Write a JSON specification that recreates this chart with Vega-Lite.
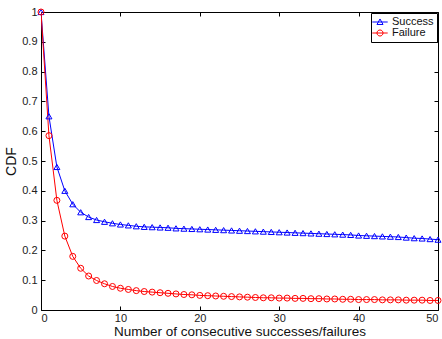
{
  "$schema": "https://vega.github.io/schema/vega-lite/v6.json",
  "width": 397,
  "height": 298,
  "autosize": {"type": "none"},
  "padding": {"left": 41, "top": 12, "right": 4, "bottom": 29},
  "background": "white",
  "config": {
    "font": "Liberation Sans",
    "view": {"stroke": "black", "strokeWidth": 1},
    "axis": {"grid": false, "domain": false, "tickColor": "black", "tickSize": -4, "labelColor": "#222", "labelFontSize": 11, "labelFont": "Liberation Sans", "titleFont": "Liberation Sans", "titleFontWeight": "normal", "titleColor": "#111"},
    "legend": {"title": null, "orient": "top-right", "offset": 1, "strokeColor": "black", "fillColor": "white", "padding": 3, "rowPadding": 0, "labelFontSize": 11, "labelColor": "#111", "symbolSize": 121, "symbolStrokeWidth": 1, "labelOffset": 6}
  },
  "data": {"values": [
    {"x":0,"v":1.0,"s":"Success"},{"x":1,"v":0.65,"s":"Success"},{"x":2,"v":0.48,"s":"Success"},{"x":3,"v":0.40,"s":"Success"},{"x":4,"v":0.355,"s":"Success"},{"x":5,"v":0.328,"s":"Success"},{"x":6,"v":0.312,"s":"Success"},{"x":7,"v":0.302,"s":"Success"},{"x":8,"v":0.296,"s":"Success"},{"x":9,"v":0.291,"s":"Success"},{"x":10,"v":0.287,"s":"Success"},{"x":11,"v":0.284,"s":"Success"},{"x":12,"v":0.281,"s":"Success"},{"x":13,"v":0.279,"s":"Success"},{"x":14,"v":0.278,"s":"Success"},{"x":15,"v":0.277,"s":"Success"},{"x":16,"v":0.276,"s":"Success"},{"x":17,"v":0.274,"s":"Success"},{"x":18,"v":0.273,"s":"Success"},{"x":19,"v":0.272,"s":"Success"},{"x":20,"v":0.271,"s":"Success"},{"x":21,"v":0.27,"s":"Success"},{"x":22,"v":0.269,"s":"Success"},{"x":23,"v":0.268,"s":"Success"},{"x":24,"v":0.267,"s":"Success"},{"x":25,"v":0.266,"s":"Success"},{"x":26,"v":0.265,"s":"Success"},{"x":27,"v":0.264,"s":"Success"},{"x":28,"v":0.263,"s":"Success"},{"x":29,"v":0.262,"s":"Success"},{"x":30,"v":0.261,"s":"Success"},{"x":31,"v":0.26,"s":"Success"},{"x":32,"v":0.259,"s":"Success"},{"x":33,"v":0.258,"s":"Success"},{"x":34,"v":0.257,"s":"Success"},{"x":35,"v":0.256,"s":"Success"},{"x":36,"v":0.255,"s":"Success"},{"x":37,"v":0.254,"s":"Success"},{"x":38,"v":0.253,"s":"Success"},{"x":39,"v":0.252,"s":"Success"},{"x":40,"v":0.25,"s":"Success"},{"x":41,"v":0.249,"s":"Success"},{"x":42,"v":0.248,"s":"Success"},{"x":43,"v":0.247,"s":"Success"},{"x":44,"v":0.246,"s":"Success"},{"x":45,"v":0.245,"s":"Success"},{"x":46,"v":0.243,"s":"Success"},{"x":47,"v":0.241,"s":"Success"},{"x":48,"v":0.24,"s":"Success"},{"x":49,"v":0.238,"s":"Success"},{"x":50,"v":0.236,"s":"Success"},
    {"x":0,"v":1.0,"s":"Failure"},{"x":1,"v":0.585,"s":"Failure"},{"x":2,"v":0.368,"s":"Failure"},{"x":3,"v":0.248,"s":"Failure"},{"x":4,"v":0.18,"s":"Failure"},{"x":5,"v":0.14,"s":"Failure"},{"x":6,"v":0.114,"s":"Failure"},{"x":7,"v":0.099,"s":"Failure"},{"x":8,"v":0.088,"s":"Failure"},{"x":9,"v":0.079,"s":"Failure"},{"x":10,"v":0.073,"s":"Failure"},{"x":11,"v":0.069,"s":"Failure"},{"x":12,"v":0.065,"s":"Failure"},{"x":13,"v":0.062,"s":"Failure"},{"x":14,"v":0.06,"s":"Failure"},{"x":15,"v":0.058,"s":"Failure"},{"x":16,"v":0.056,"s":"Failure"},{"x":17,"v":0.054,"s":"Failure"},{"x":18,"v":0.052,"s":"Failure"},{"x":19,"v":0.051,"s":"Failure"},{"x":20,"v":0.049,"s":"Failure"},{"x":21,"v":0.048,"s":"Failure"},{"x":22,"v":0.047,"s":"Failure"},{"x":23,"v":0.046,"s":"Failure"},{"x":24,"v":0.045,"s":"Failure"},{"x":25,"v":0.044,"s":"Failure"},{"x":26,"v":0.043,"s":"Failure"},{"x":27,"v":0.042,"s":"Failure"},{"x":28,"v":0.041,"s":"Failure"},{"x":29,"v":0.041,"s":"Failure"},{"x":30,"v":0.04,"s":"Failure"},{"x":31,"v":0.04,"s":"Failure"},{"x":32,"v":0.039,"s":"Failure"},{"x":33,"v":0.039,"s":"Failure"},{"x":34,"v":0.038,"s":"Failure"},{"x":35,"v":0.038,"s":"Failure"},{"x":36,"v":0.037,"s":"Failure"},{"x":37,"v":0.037,"s":"Failure"},{"x":38,"v":0.036,"s":"Failure"},{"x":39,"v":0.036,"s":"Failure"},{"x":40,"v":0.035,"s":"Failure"},{"x":41,"v":0.035,"s":"Failure"},{"x":42,"v":0.035,"s":"Failure"},{"x":43,"v":0.034,"s":"Failure"},{"x":44,"v":0.034,"s":"Failure"},{"x":45,"v":0.034,"s":"Failure"},{"x":46,"v":0.033,"s":"Failure"},{"x":47,"v":0.033,"s":"Failure"},{"x":48,"v":0.033,"s":"Failure"},{"x":49,"v":0.032,"s":"Failure"},{"x":50,"v":0.032,"s":"Failure"}
  ]},
  "layer": [
    {
      "mark": {"type": "line", "strokeWidth": 1, "clip": true},
      "encoding": {
        "x": {"field": "x", "type": "quantitative", "scale": {"domain": [0, 50], "nice": false},
              "axis": {"orient": "bottom", "values": [0,10,20,30,40,50], "title": "Number of consecutive successes/failures", "titleFontSize": 13.5, "titlePadding": 1, "labelPadding": 6}},
        "y": {"field": "v", "type": "quantitative", "scale": {"domain": [0, 1], "nice": false},
              "axis": {"orient": "left", "values": [0,0.1,0.2,0.3,0.4,0.5,0.6,0.7,0.8,0.9,1], "format": "~g", "title": "CDF", "titleFontSize": 14, "titlePadding": 3, "labelPadding": 8}},
        "color": {"field": "s", "type": "nominal", "scale": {"domain": ["Success", "Failure"], "range": ["#0000ff", "#ff0000"]},
                  "legend": {"encode": {"symbols": {"update": {"shape": {"signal": "datum.value === 'Success' ? 'M-1.4,0H1.4M-0.55,0.45L0,-0.55L0.55,0.45Z' : 'M-1.4,0H1.4M0.55,0A0.55,0.55,0,1,1,-0.55,0A0.55,0.55,0,1,1,0.55,0'"}, "fill": {"value": "transparent"}}}}}}
      }
    },
    {
      "transform": [{"filter": "datum.s === 'Success'"}],
      "mark": {"type": "point", "shape": "triangle-up", "filled": false, "size": 36, "strokeWidth": 1, "opacity": 1},
      "encoding": {
        "x": {"field": "x", "type": "quantitative", "axis": {"orient": "top", "values": [0,10,20,30,40,50], "labels": false, "title": null}},
        "y": {"field": "v", "type": "quantitative", "axis": {"orient": "right", "values": [0,0.1,0.2,0.3,0.4,0.5,0.6,0.7,0.8,0.9,1], "labels": false, "title": null}},
        "color": {"field": "s", "type": "nominal", "scale": {"domain": ["Success", "Failure"], "range": ["#0000ff", "#ff0000"]}}
      }
    },
    {
      "transform": [{"filter": "datum.s === 'Failure'"}],
      "mark": {"type": "point", "shape": "circle", "filled": false, "size": 36, "strokeWidth": 1, "opacity": 1},
      "encoding": {
        "x": {"field": "x", "type": "quantitative", "axis": null},
        "y": {"field": "v", "type": "quantitative", "axis": null},
        "color": {"field": "s", "type": "nominal", "scale": {"domain": ["Success", "Failure"], "range": ["#0000ff", "#ff0000"]}}
      }
    }
  ],
  "resolve": {"axis": {"x": "independent", "y": "independent"}}
}
